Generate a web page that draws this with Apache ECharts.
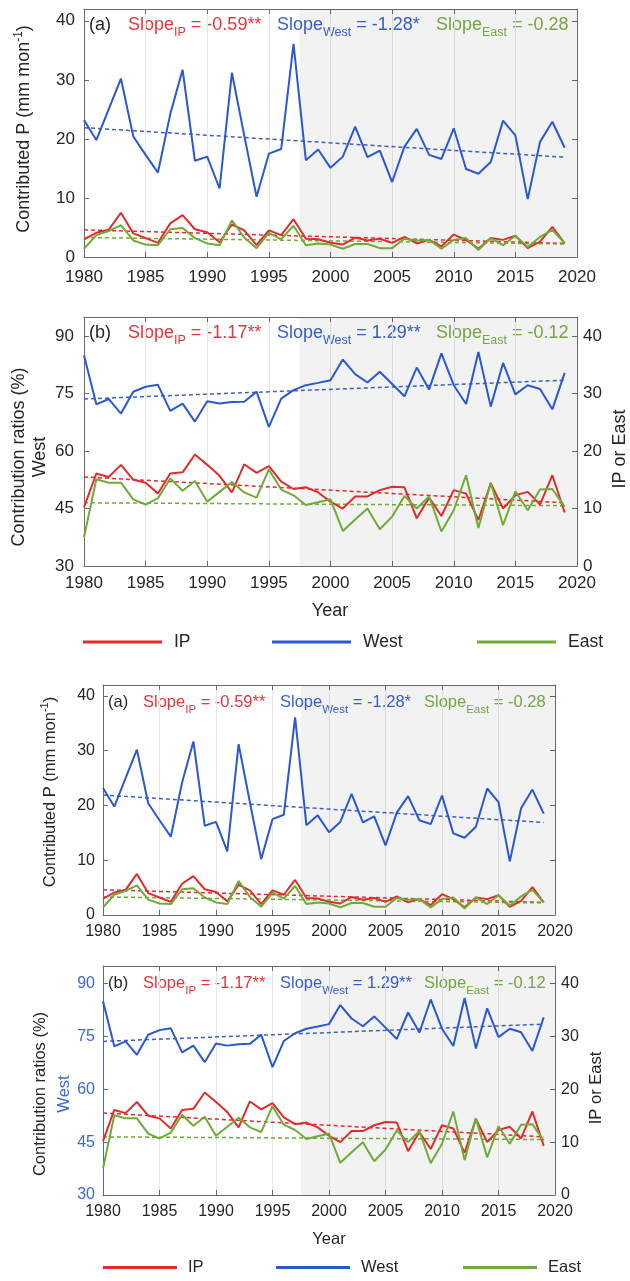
<!DOCTYPE html>
<html><head><meta charset="utf-8">
<script src="https://cdn.jsdelivr.net/npm/echarts@6/dist/echarts.min.js"></script>
<style>html,body{margin:0;padding:0;background:#fff}#c{width:630px;height:1281px}</style>
</head><body><div id="c"></div>
<script>
// ---------------- data ----------------
const years = [1980,1981,1982,1983,1984,1985,1986,1987,1988,1989,1990,1991,1992,1993,1994,1995,1996,1997,1998,1999,
               2000,2001,2002,2003,2004,2005,2006,2007,2008,2009,2010,2011,2012,2013,2014,2015,2016,2017,2018,2019];
// (a) contributed precipitation (mm mon-1)
const ipP   = [3.0,4.1,4.6,7.5,4.0,3.2,2.4,5.7,7.1,4.7,4.2,2.5,5.5,4.5,2.0,4.5,3.7,6.4,3.1,3.0,
               2.4,2.1,3.3,2.8,3.1,2.4,3.4,2.3,2.9,1.8,3.8,2.9,1.4,3.2,2.9,3.6,1.5,2.6,5.1,2.3];
const westP = [23.2,19.8,25.0,30.2,20.4,17.3,14.3,24.2,31.7,16.3,17.0,11.6,31.2,20.6,10.2,17.5,18.3,36.1,16.4,18.2,
               15.1,17.0,22.1,16.9,18.0,12.7,18.7,21.7,17.3,16.6,21.8,14.9,14.1,16.1,23.1,20.6,9.8,19.5,22.9,18.5];
const eastP = [1.4,3.7,4.4,5.4,2.8,2.1,2.0,4.7,4.9,3.2,2.3,2.0,6.2,3.3,1.5,4.1,3.0,5.3,2.0,2.3,
               2.1,1.4,2.2,2.2,1.5,1.5,3.1,2.8,2.9,1.4,2.9,3.2,1.2,3.2,2.0,3.6,1.7,3.4,4.6,2.3];
// (b) contribution ratios (%)  West on left axis, IP / East on right axis
const westR = [85.0,72.2,73.6,69.8,75.5,76.8,77.3,70.5,72.4,67.7,73.0,72.4,72.8,72.9,75.5,66.3,73.7,75.9,77.2,77.8,
               78.5,83.9,80.1,77.9,80.7,77.5,74.3,81.8,76.1,85.5,77.2,72.3,85.9,71.6,83.0,74.8,77.2,76.2,70.9,80.4];
const ipR   = [10.2,16.1,15.5,17.6,15.0,14.5,12.6,16.1,16.3,19.4,17.6,15.7,12.8,17.7,16.2,17.4,14.7,13.4,13.7,12.8,
               11.2,10.0,12.1,12.1,13.2,13.8,13.7,8.3,11.9,8.7,13.2,12.6,8.0,14.4,10.0,12.3,12.9,10.7,15.8,9.3];
const eastR = [5.0,15.1,14.5,14.5,11.6,10.7,11.8,15.2,13.1,14.8,11.2,12.9,14.6,12.8,11.9,16.8,13.3,12.3,10.6,11.1,
               11.6,6.1,8.1,10.0,6.4,8.6,12.2,10.0,12.1,6.0,9.7,15.8,6.6,14.5,7.1,13.0,9.7,13.3,13.4,10.3];
// trend lines (value at 1980 and at 2019)
const trendYears  = [1980, 2019];
const trendIpP    = [4.6, 2.3];
const trendWestP  = [21.9, 16.9];
const trendEastP  = [3.3, 2.2];
const trendIpR    = [15.5, 11.0];
const trendWestR  = [73.6, 78.5];
const trendEastR  = [11.0, 10.5];
const shadeYears  = [1997.5, 2020];
const slopeP = ['-0.59**', '-1.28*', '-0.28'];
const slopeR = ['-1.17**', '1.29**', '-0.12'];
const panelTags = ['(a)', '(b)', '(a)', '(b)'];
const seriesNames = ['IP', 'West', 'East'];

// ---------------- styles ----------------
const RED = '#e42b2b', BLUE = '#2a58d0', GREEN = '#6fab37';
const TRED = '#e8353b', TBLUE = '#3a63d2', TGREEN = '#79b045';
const TXT = '#262626', AX = '#6b6b6b';
const FONT = '"Liberation Sans", Arial, Helvetica, sans-serif';

const geo = [
  {left:84,  top:9,   width:493, height:248, fs:17, afs:18,   sub:12.5, kind:'a', lm:9},
  {left:84,  top:317, width:493, height:249, fs:17, afs:18,   sub:12.5, kind:'b', lm:10},
  {left:103, top:685, width:452, height:230, fs:16, afs:16.5, sub:11.5, kind:'a', lm:8},
  {left:103, top:966, width:452, height:229, fs:16, afs:16.5, sub:11.5, kind:'b', lm:8, blueLeft:true}
];

const pairs = (vals) => years.map((y, i) => [y, vals[i]]);
const tpairs = (vals) => trendYears.map((y, i) => [y, vals[i]]);
const plain = (v) => String(v);

const option = {animation:false, backgroundColor:'#fff', textStyle:{fontFamily:FONT},
  grid:[], xAxis:[], yAxis:[], series:[], graphic:[], legend:[]};

geo.forEach((g, p) => {
  option.grid.push({left:g.left, top:g.top, width:g.width, height:g.height, containLabel:false});
  const tick = {show:true, inside:true, length:5, lineStyle:{color:AX, width:1}};
  option.xAxis.push({gridIndex:p, type:'value', min:1980, max:2020, interval:5, position:'bottom',
    axisLine:{show:true, onZero:false, lineStyle:{color:AX, width:1}}, axisTick:tick,
    axisLabel:{color:TXT, fontSize:g.fs, fontFamily:FONT, margin:p===0 ? 12 : 9, formatter:plain},
    splitLine:{show:true, lineStyle:{color:'#e6e6e6', width:1}}});
  option.xAxis.push({gridIndex:p, type:'value', min:1980, max:2020, interval:5, position:'top',
    axisLine:{show:true, onZero:false, lineStyle:{color:AX}}, axisTick:tick,
    axisLabel:{show:false}, splitLine:{show:false}});
  const leftColor = g.blueLeft ? '#3d6ad8' : AX;
  if (g.kind === 'a') {
    option.yAxis.push({gridIndex:p, type:'value', min:0, max:42, interval:10, position:'left',
      axisLine:{show:true, lineStyle:{color:AX}}, axisTick:tick,
      axisLabel:{color:TXT, fontSize:g.fs, fontFamily:FONT, margin:g.lm, showMaxLabel:false, formatter:plain},
      splitLine:{show:false}});
    option.yAxis.push({gridIndex:p, type:'value', min:0, max:42, interval:10, position:'right',
      axisLine:{show:true, lineStyle:{color:AX}}, axisTick:tick, axisLabel:{show:false}, splitLine:{show:false}});
  } else {
    option.yAxis.push({gridIndex:p, type:'value', min:30, max:95, interval:15, position:'left',
      axisLine:{show:true, lineStyle:{color:leftColor, width:1}}, axisTick:{show:true, inside:true, length:5, lineStyle:{color:leftColor}},
      axisLabel:{color:g.blueLeft ? '#3d6ad8' : TXT, fontSize:g.fs, fontFamily:FONT, margin:g.lm, showMaxLabel:false, formatter:plain},
      splitLine:{show:false}});
    option.yAxis.push({gridIndex:p, type:'value', min:0, max:65/1.5, interval:10, position:'right',
      axisLine:{show:true, lineStyle:{color:AX}}, axisTick:tick,
      axisLabel:{color:TXT, fontSize:g.fs, fontFamily:FONT, margin:6, showMaxLabel:false, formatter:plain},
      splitLine:{show:false}});
  }
  const xi = 2*p, yl = 2*p, yr = 2*p + 1;
  const isA = g.kind === 'a';
  const dIP = isA ? ipP : ipR, dW = isA ? westP : westR, dE = isA ? eastP : eastR;
  const tIP = isA ? trendIpP : trendIpR, tW = isA ? trendWestP : trendWestR, tE = isA ? trendEastP : trendEastR;
  const ySide = isA ? yl : yr;
  const line = (name, data, color, yIdx, extra) => Object.assign({
    name, type:'line', xAxisIndex:xi, yAxisIndex:yIdx, data, symbol:'none', z:3,
    lineStyle:{color, width:2}, itemStyle:{color}}, extra || {});
  option.series.push(line('West', pairs(dW), BLUE, yl, {
    markArea:{silent:true, z:1, itemStyle:{color:'rgba(0,0,0,0.05)'}, data:[[{xAxis:shadeYears[0]}, {xAxis:shadeYears[1]}]]}}));
  option.series.push(line('IP', pairs(dIP), RED, ySide));
  option.series.push(line('East', pairs(dE), GREEN, ySide));
  const dash = (name, data, color, yIdx) => ({name, type:'line', xAxisIndex:xi, yAxisIndex:yIdx, data, symbol:'none', z:2,
    lineStyle:{color, width:1.5, type:[4,3]}});
  option.series.push(dash('IP trend', tpairs(tIP), RED, ySide));
  option.series.push(dash('West trend', tpairs(tW), '#3d5fc4', yl));
  option.series.push(dash('East trend', tpairs(tE), GREEN, ySide));

  // annotations
  const slopes = isA ? slopeP : slopeR;
  const ty = g.top + (p < 2 ? 16 : 17);
  const xs = p < 2 ? [89, 128, 277, 436] : [108, 143, 280, 424];
  const rich = (c) => ({m:{fontSize:g.afs, fill:c, fontFamily:FONT}, s:{fontSize:g.sub, fill:c, fontFamily:FONT, padding:[16,0,0,0]}});
  option.graphic.push({type:'text', x:xs[0], y:ty, style:{text:panelTags[p], fill:TXT, font:g.afs+'px '+FONT, verticalAlign:'middle'}});
  const cols = [TRED, TBLUE, TGREEN];
  seriesNames.forEach((nm, k) => {
    option.graphic.push({type:'text', x:xs[k+1], y:ty, style:{
      text:'{m|Slope}{s|' + nm + '}{m| = ' + slopes[k] + '}', rich:rich(cols[k]), fill:cols[k], verticalAlign:'middle', font:g.afs+'px '+FONT}});
  });
});

// axis titles
const supRich = (fs) => ({m:{fontSize:fs, fill:TXT, fontFamily:FONT}, u:{fontSize:Math.round(fs*0.65), fill:TXT, fontFamily:FONT, padding:[0,0,10,0]}});
option.graphic.push({type:'text', x:24, y:129, rotation:Math.PI/2, style:{text:'{m|Contributed P (mm mon}{u|-1}{m|)}', rich:supRich(18), fill:TXT, align:'center', verticalAlign:'middle'}});
option.graphic.push({type:'text', x:50, y:792, rotation:Math.PI/2, style:{text:'{m|Contributed P (mm mon}{u|-1}{m|)}', rich:supRich(16.5), fill:TXT, align:'center', verticalAlign:'middle'}});
const tt = (x, y, text, fs, color) => ({type:'text', x, y, rotation:Math.PI/2, style:{text, fill:color||TXT, font:fs+'px '+FONT, align:'center', verticalAlign:'middle'}});
option.graphic.push(tt(19, 457, 'Contribution ratios (%)', 18));
option.graphic.push(tt(40, 457, 'West', 18));
option.graphic.push(tt(620, 449, 'IP or East', 18));
option.graphic.push(tt(40, 1094, 'Contribution ratios (%)', 16.5));
option.graphic.push(tt(64, 1094, 'West', 16.5, '#3d6ad8'));
option.graphic.push(tt(596, 1088, 'IP or East', 16.5));
option.graphic.push({type:'text', x:330, y:611, style:{text:'Year', fill:TXT, font:'18px '+FONT, align:'center', verticalAlign:'middle'}});
option.graphic.push({type:'text', x:329, y:1239, style:{text:'Year', fill:TXT, font:'16.5px '+FONT, align:'center', verticalAlign:'middle'}});

// legends
const legCols = {IP:RED, West:BLUE, East:GREEN};
const legPos = [
  {y:638, xs:[78, 267, 472], w:79, fs:17.5, gap:12},
  {y:1264, xs:[98, 271, 458], w:74, fs:16.5, gap:11}
];
legPos.forEach(L => {
  seriesNames.forEach((nm, k) => {
    option.legend.push({data:[{name:nm, itemStyle:{color:legCols[nm]}}], left:L.xs[k], top:L.y - 10, icon:'rect',
      itemWidth:L.w, itemHeight:3, itemGap:0, selectedMode:false,
      textStyle:{color:TXT, fontSize:L.fs, fontFamily:FONT, padding:[0,0,0,L.gap - 5]}});
  });
});

const chart = echarts.init(document.getElementById('c'), null, {renderer:'canvas'});
chart.setOption(option);
</script></body></html>
